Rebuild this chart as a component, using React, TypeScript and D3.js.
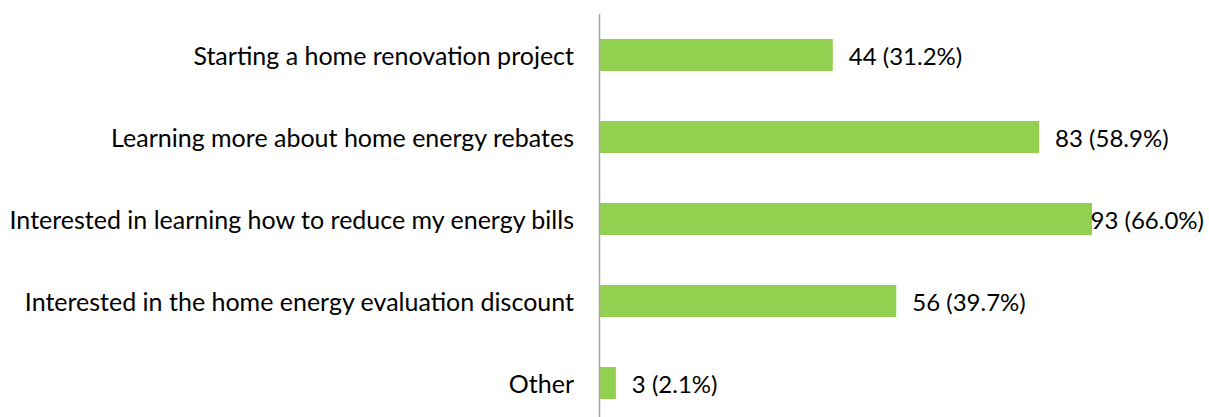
import React from "react";
import * as d3 from "d3";

const categories = [
  "Starting a home renovation project",
  "Learning more about home energy rebates",
  "Interested in learning how to reduce my energy bills",
  "Interested in the home energy evaluation discount",
  "Other",
];
const counts = [44, 83, 93, 56, 3];
const percents = ["31.2%", "58.9%", "66.0%", "39.7%", "2.1%"];

const W = 1209;
const H = 417;
const FONT = "Lato, 'Open Sans', sans-serif";
const FS = 25;
const VFS = 24;

function measure(text: string, fs: number): number {
  if (typeof document === "undefined") return text.length * 9;
  const c = document.createElement("canvas");
  const ctx = c.getContext("2d")!;
  ctx.font = `${fs}px ${FONT}`;
  return ctx.measureText(text).width;
}

export default function App() {
  const x0 = 600;
  const x = d3.scaleLinear().domain([0, 93]).range([x0, 1092]);
  const y = d3
    .scaleBand<string>()
    .domain(categories)
    .range([14, 14 + 82 * categories.length])
    .paddingInner(50 / 82)
    .paddingOuter(25 / 82);
  return (
    <svg
      width={W}
      height={H}
      style={{ position: "absolute", left: 0, top: 0, background: "#fff" }}
      fontFamily={FONT}
    >
      {categories.map((c, i) => {
        const yy = y(c)!;
        const bw = y.bandwidth();
        const cy = yy + bw / 2;
        const end = x(counts[i]);
        const label = `${counts[i]} (${percents[i]})`;
        const tw = measure(label, VFS);
        let lx = end + 16;
        let anchor: "start" | "end" = "start";
        if (lx + tw > W - 5) {
          lx = W - 5;
          anchor = "end";
        }
        return (
          <g key={c}>
            <rect x={x0} y={yy} width={end - x0} height={bw} fill="#92D050" />
            <text x={574} y={cy} textAnchor="end" dominantBaseline="central" fill="#000" fontSize={FS}>
              {c}
            </text>
            <text x={lx} y={cy} textAnchor={anchor} dominantBaseline="central" fill="#000" fontSize={VFS}>
              {label}
            </text>
          </g>
        );
      })}
      <line x1={599.5} x2={599.5} y1={14} y2={H} stroke="#A6A6A6" strokeWidth={1.5} />
    </svg>
  );
}
